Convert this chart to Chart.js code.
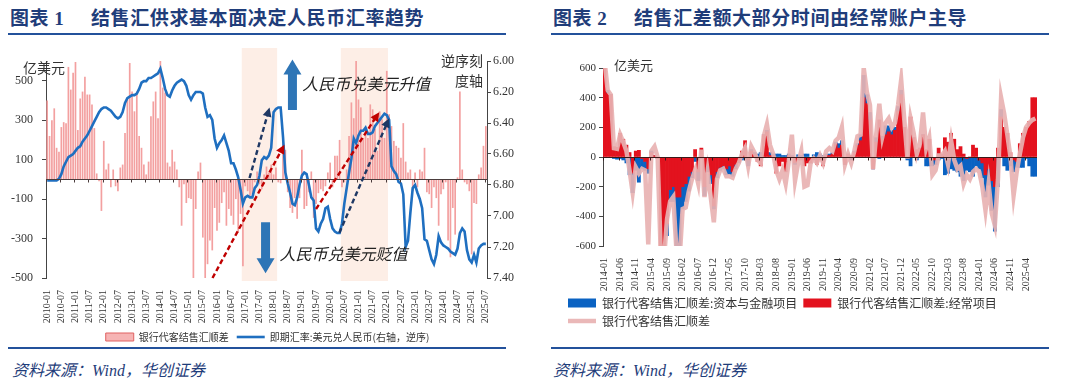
<!DOCTYPE html>
<html lang="zh-CN">
<head>
<meta charset="UTF-8">
<title>结售汇与人民币汇率</title>
<script src="https://cdn.jsdelivr.net/npm/chart.js"></script>
<style>
  body { margin: 0; width: 1080px; height: 384px; background: #fff; position: relative; overflow: hidden;
         font-family: "Noto Sans CJK SC", sans-serif; }
  .title { position: absolute; top: 6px; font-size: 19px; line-height: 22px; font-weight: bold; color: #1f3d7a;
           white-space: nowrap; letter-spacing: 0.6px; }
  .rule { position: absolute; height: 2px; background: #23519b; z-index: 2; }
  .source { position: absolute; top: 359px; font-size: 16px; line-height: 20px; font-style: italic; color: #1f3d7a;
            white-space: nowrap; }
  .source b { font-family: "Liberation Serif", serif; font-weight: normal; }
  .unit { position: absolute; font-size: 13px; line-height: 16px; color: #333; white-space: nowrap; z-index: 2; }
  .chart { position: absolute; }
</style>
</head>
<body>
  <div class="title" style="left:10px">图表 <span style="font-family:'Liberation Serif',serif">1</span></div>
  <div class="title" style="left:91px">结售汇供求基本面决定人民币汇率趋势</div>
  <div class="rule" style="left:8px;top:33px;width:498px"></div>

  <div class="title" style="left:553px">图表 <span style="font-family:'Liberation Serif',serif">2</span></div>
  <div class="title" style="left:634px">结售汇差额大部分时间由经常账户主导</div>
  <div class="rule" style="left:551px;top:33px;width:498px"></div>

  <div class="chart" style="left:0;top:40px;width:540px;height:312px">
    <canvas id="leftChart" width="540" height="312"></canvas>
  </div>
  <div class="chart" style="left:540px;top:40px;width:540px;height:300px">
    <canvas id="rightChart" width="540" height="300"></canvas>
  </div>

  <div class="unit" style="left:23px;top:59px;font-size:14px">亿美元</div>
  <div class="unit" style="left:441px;top:52px;font-size:14px">逆序刻</div>
  <div class="unit" style="left:455px;top:72px;font-size:14px">度轴</div>
  <div class="unit" style="left:614px;top:57px">亿美元</div>

  <div class="rule" style="left:8px;top:347px;width:498px"></div>
  <div class="rule" style="left:551px;top:347px;width:498px"></div>
  <div class="source" style="left:12px">资料来源：<b>Wind</b>，华创证券</div>
  <div class="source" style="left:553px">资料来源：<b>Wind</b>，华创证券</div>

<script>
  // ---- data: chart 1 (monthly, 2010-01 .. 2025-07) ----
  const leftMonths = [];
  for (let y = 2010; y <= 2025; y++) {
    for (let m = 1; m <= 12; m++) {
      if (y === 2025 && m > 7) break;
      leftMonths.push(y + '-' + String(m).padStart(2, '0'));
    }
  }

  // 银行代客结售汇顺差, 亿美元
  const leftSettlement = [
    400, 220, 300, 360, 160, 140, 265, 290, 285, 570,
    455, 540, 595, 250, 410, 445, 520, 430, 430, 380,
    260, 30, -10, -160, 195, 50, 80, -40, 50, -35,
    -60, 60, 75, 235, 410, 590, 445, 345, 445,
    220, 160, 75, 25, 90, 320, 395, 445, 310, 600,
    465, 440, 85, 65, 150, 90, 50, -40, -235, -25,
    -120, -95, -100, -520, -150, 40, 85, -295, -520, -430,
    -310, -360, -145, -260, -220, -120, -65, -235, -150, -185,
    -230, -100, -270, -175, -440, -35, -60, -90, -75, -15,
    40, -25, -50, 25, 65, 35, 75, 25, 60, -15,
    -20, 230, 150,
    -65, -145, -170, -95, -200, -95, 150, -150, -135, -65,
    40, -195, -125, -70, -50, -60, -35, 35, 85, -40,
    120, 120, 200, -40, -15, 50, 220, 390, 310, 600,
    405, 365, 210, 255, 210, 380, 355, 255, 145, 345,
    305, 210, 550, 330, 270, 195, 170, 160, 110, 285,
    90, 35, 50, -60, 35, -40, 50, 40, 160, -65,
    -75, -145, -40, -95, -235, -75, -50, -15, -310, -395,
    -145, -280, 10, 445, 50, -15, -25, -60, -380, -120,
    -125, 25, 60, 170, 270
  ];

  // 即期汇率: 美元兑人民币
  const leftRate = [
    6.77, 6.77, 6.77, 6.77, 6.77, 6.76, 6.73, 6.68, 6.65, 6.62, 6.61, 6.60,
    6.58, 6.56, 6.55, 6.52, 6.50, 6.48, 6.45, 6.42, 6.39, 6.36, 6.33, 6.31,
    6.30, 6.30, 6.31, 6.32, 6.34, 6.36, 6.37, 6.36, 6.33, 6.27, 6.24, 6.23,
    6.22, 6.22, 6.21, 6.18, 6.14, 6.13, 6.13, 6.11, 6.11, 6.10, 6.09, 6.08,
    6.05, 6.11, 6.18, 6.22, 6.23, 6.19, 6.16, 6.14, 6.13, 6.12, 6.13, 6.16,
    6.22, 6.25, 6.22, 6.20, 6.20, 6.20, 6.21, 6.30, 6.36, 6.35, 6.38, 6.50,
    6.56, 6.53, 6.51, 6.48, 6.53, 6.58, 6.66, 6.66, 6.70, 6.75, 6.83, 6.92,
    6.88, 6.87, 6.88, 6.88, 6.82, 6.80, 6.74, 6.64, 6.62, 6.63, 6.61, 6.56,
    6.33, 6.31, 6.30, 6.30, 6.49, 6.72, 6.79, 6.85, 6.92, 6.93, 6.88, 6.80,
    6.74, 6.72, 6.73, 6.80, 6.88, 6.90, 7.08, 7.10, 7.05, 7.02, 6.95, 6.94,
    7.02, 7.08, 7.10, 7.11, 7.11, 7.05, 6.92, 6.82, 6.72, 6.63, 6.50, 6.53,
    6.48, 6.45, 6.45, 6.43, 6.47, 6.47, 6.46, 6.42, 6.40, 6.38, 6.36, 6.34,
    6.35, 6.38, 6.68, 6.71, 6.73, 6.78, 6.79, 6.86, 7.20, 7.16, 6.98, 6.82,
    6.80, 6.85, 6.89, 6.95, 7.15, 7.16, 7.22, 7.28, 7.31, 7.25, 7.13, 7.17,
    7.19, 7.20, 7.21, 7.23, 7.24, 7.25, 7.21, 7.11, 7.08, 7.10, 7.22, 7.28,
    7.30, 7.25, 7.30, 7.21, 7.19, 7.18, 7.18
  ];

  const leftTicks = [-500, -300, -100, 100, 300, 500];
  const rateTicks = [6.0, 6.2, 6.4, 6.6, 6.8, 7.0, 7.2, 7.4];
  const shadePeriods = [['2016-12', '2018-02'], ['2020-06', '2022-01']];

  // ---- data: chart 2 (monthly, 2014-01 .. 2025-07) ----
  const rightMonths = leftMonths.slice(leftMonths.indexOf('2014-01'));

  // 资本与金融项目
  const rightCapital = [
    10, 20, 0, -10, -15, -10, -20, -40, -120, -130,
    -90, -170, -70, -60, -30, 10, 0, 0, 0, -30,
    -80, -80, -100, -350, -350, -150, -120, -100, -40, -30,
    -60, -10, -60, -40, -60, -20, -40, -20, -20, -40,
    -60, -30, -30, -10, -20, -10, -40, 10, 10, 20,
    30, 0, 10, 20, 10, 20, 20, 10, 10, 10,
    10, -10, 15, 10, 20, 20, 0, 15, 30, 20,
    10, 10, 10, 10, 10, 30, 30, 0, 0, -20,
    10, 10, 40, 150, 60, 50, 0, 30, -10, 20,
    60, 40, 30, 20, 30, 30, 0, -20, -60, 0,
    -20, 0, 0, -60, -60, -40, -30, -20, -10, -120,
    -110, -80, -90, -100, -130, -160, -80, -100, -130, -60,
    -60, -100, -150, -110, -200, -300, -200, 50, -60, -90,
    -60, -80, -40, -70, -70, -10, -60, -130, -130
  ];
  // 经常项目
  const rightCurrent = [
    640, 430, 420, 70, 65, 160, 120, 80, 30, -110,
    40, 45, -10, -30, -80, 30, 10, -10, -640, -640,
    -450, -220, -200, -270, -270, -200, -180, -130, -100, 50,
    -100, 60, -200, -60, -120, -330, -100, -70, -60, -80,
    -60, -100, -50, -30, 40, 110, -20, 40, 20, -30,
    -60, 150, 170, 10, 10, -110, -60, -30, -100, 10,
    0, -40, -20, -20, -60, -40, -40, -20, -50, -20,
    -60, 10, 10, 20, 90, 60, 80, -50, 20, 10,
    30, 80, 110, 400, 360, 250, -80, 100, 250, 120,
    150, 170, 150, 180, 310, 420, 200, 0, 270, 130,
    50, 60, 150, 50, 120, -20, -20, 60, 20, 130,
    100, 160, 120, 50, 70, 20, -10, 0, 80, 60,
    -20, -40, -120, -80, -160, -200, 60, 270, 200, 160,
    30, -20, -30, 90, 160, 200, 240, 400, 400
  ];
  // 银行代客结售汇顺差
  const rightTotal = [
    650, 450, 420, 60, 55, 150, 100, 40, -90, -240,
    -70, -110, -80, -90, -590, 40, 70, 0, -650, -700,
    -420, -300, -270, -620, -700, -350, -340, -230, -150, -90,
    -180, 50, -270, -100, -270, -440, -150, -90, -80, -130,
    -130, -140, -80, -40, 20, 60, -60, 70, 30, -20,
    -40, 140, 220, 80, 20, -90, -150, -90, -180, -30,
    150, -160, -40, 40, -200, -190, -40, -10, -40, 10,
    -40, 40, 60, 40, 110, 130, 200, -50, 20, -40,
    40, 140, 150, 600, 440, 350, -80, 150, 360, 140,
    230, 260, 200, 230, 350, 520, 250, -10, 260, 160,
    20, 90, 300, 60, 130, -120, -90, 10, 10, 40,
    -50, 110, -20, -80, -60, -180, -120, -150, -100, -80,
    -100, -200, -360, -180, -380, -460, -150, 400, 290, 150,
    0, -260, -100, 20, 130, 200, 230, 250, 260
  ];
  const rightTicks = [-600, -400, -200, 0, 200, 400, 600];

  // annotation geometry for chart 1, in (month index, rate) space
  const trendArrows = [
    { from: [85.8, 6.755], to: [94.3, 6.30], color: '#1f3864' },
    { from: [70.1, 7.40], to: [100.6, 6.54], color: '#c00000' },
    { from: [114.0, 6.955], to: [140.8, 6.33], color: '#c00000' },
    { from: [123.9, 7.108], to: [145.0, 6.37], color: '#1f3864' }
  ];

  const serif = '"Liberation Serif", "Times New Roman", serif';
  const cjk = '"Noto Sans CJK SC", sans-serif';

  function legendItems(chart, fills) {
    const items = Chart.defaults.plugins.legend.labels.generateLabels(chart);
    items.forEach(it => {
      const ds = chart.data.datasets[it.datasetIndex];
      it.pointStyle = ds.type === 'line' ? 'line' : 'rect';
      if (fills && fills[it.datasetIndex]) Object.assign(it, fills[it.datasetIndex]);
    });
    return items.sort((a, b) => a.datasetIndex - b.datasetIndex);
  }

  function dashedArrow(ctx, x0, y0, x1, y1, color) {
    const ang = Math.atan2(y1 - y0, x1 - x0);
    const head = 9;
    ctx.save();
    ctx.strokeStyle = color;
    ctx.fillStyle = color;
    ctx.lineWidth = 2.4;
    ctx.setLineDash([5, 3]);
    ctx.beginPath();
    ctx.moveTo(x0, y0);
    ctx.lineTo(x1 - Math.cos(ang) * head * 0.8, y1 - Math.sin(ang) * head * 0.8);
    ctx.stroke();
    ctx.setLineDash([]);
    ctx.beginPath();
    ctx.moveTo(x1, y1);
    ctx.lineTo(x1 - head * Math.cos(ang) + 4.5 * Math.sin(ang), y1 - head * Math.sin(ang) - 4.5 * Math.cos(ang));
    ctx.lineTo(x1 - head * Math.cos(ang) - 4.5 * Math.sin(ang), y1 - head * Math.sin(ang) + 4.5 * Math.cos(ang));
    ctx.closePath();
    ctx.fill();
    ctx.restore();
  }

  function blockArrow(ctx, cx, yTail, yTip, color) {
    const dir = yTip < yTail ? -1 : 1;
    const headLen = 15, shaftHalf = 4.5, headHalf = 9;
    const yBase = yTip - dir * headLen;
    ctx.save();
    ctx.fillStyle = color;
    ctx.beginPath();
    ctx.moveTo(cx - shaftHalf, yTail);
    ctx.lineTo(cx + shaftHalf, yTail);
    ctx.lineTo(cx + shaftHalf, yBase);
    ctx.lineTo(cx + headHalf, yBase);
    ctx.lineTo(cx, yTip);
    ctx.lineTo(cx - headHalf, yBase);
    ctx.lineTo(cx - shaftHalf, yBase);
    ctx.closePath();
    ctx.fill();
    ctx.restore();
  }

  function zeroAxis(chart, every, color) {
    const { ctx, chartArea, scales: { x, y } } = chart;
    const y0 = Math.round(y.getPixelForValue(0)) + 0.5;
    const w = x.getPixelForValue(1) - x.getPixelForValue(0);
    ctx.save();
    ctx.strokeStyle = color;
    ctx.lineWidth = 1;
    ctx.beginPath();
    ctx.moveTo(chartArea.left, y0);
    ctx.lineTo(chartArea.right, y0);
    for (let i = 0; i < x.getLabels().length; i += every) {
      const xp = Math.round(x.getPixelForValue(i) - w / 2) + 0.5;
      ctx.moveTo(xp, y0);
      ctx.lineTo(xp, y0 + 3);
    }
    ctx.stroke();
    ctx.restore();
  }

  const leftDecor = {
    id: 'leftDecor',
    beforeDatasetsDraw(chart) {
      const { ctx, chartArea, scales: { x } } = chart;
      const w = x.getPixelForValue(1) - x.getPixelForValue(0);
      ctx.save();
      ctx.fillStyle = '#fdeee6';
      shadePeriods.forEach(([a, b]) => {
        const x0 = x.getPixelForValue(leftMonths.indexOf(a)) - w / 2;
        const x1 = x.getPixelForValue(leftMonths.indexOf(b)) + w / 2;
        ctx.fillRect(x0, chartArea.top - 13, x1 - x0, chartArea.bottom - chartArea.top + 16);
      });
      ctx.restore();
    },
    afterDatasetsDraw(chart) {
      const { ctx, scales: { x, y1 } } = chart;
      zeroAxis(chart, 6, '#4a3c3c');
      trendArrows.forEach(a => {
        dashedArrow(ctx, x.getPixelForValue(a.from[0]), y1.getPixelForValue(a.from[1]),
                    x.getPixelForValue(a.to[0]), y1.getPixelForValue(a.to[1]), a.color);
      });
      blockArrow(ctx, x.getPixelForValue(104), y1.getPixelForValue(6.316), y1.getPixelForValue(5.99), '#2e75b6');
      blockArrow(ctx, x.getPixelForValue(92.6), y1.getPixelForValue(7.04), y1.getPixelForValue(7.37), '#2e75b6');
      ctx.save();
      ctx.font = 'italic 16px ' + cjk;
      ctx.fillStyle = '#222';
      ctx.textBaseline = 'middle';
      ctx.fillText('人民币兑美元升值', x.getPixelForValue(108.2), y1.getPixelForValue(6.15));
      ctx.fillText('人民币兑美元贬值', x.getPixelForValue(98.5), y1.getPixelForValue(7.245));
      ctx.restore();
    }
  };

  const rightDecor = {
    id: 'rightDecor',
    afterDatasetsDraw(chart) {
      zeroAxis(chart, 5, '#3a1818');
    }
  };

  new Chart(document.getElementById('leftChart'), {
    data: {
      labels: leftMonths,
      datasets: [
        {
          type: 'bar',
          label: '银行代客结售汇顺差',
          data: leftSettlement,
          yAxisID: 'y',
          backgroundColor: '#f3a0a0',
          borderWidth: 0,
          categoryPercentage: 1,
          barPercentage: 0.72,
          order: 1
        },
        {
          type: 'line',
          label: '即期汇率:美元兑人民币(右轴，逆序)',
          data: leftRate,
          yAxisID: 'y1',
          borderColor: '#1f6fc0',
          backgroundColor: '#1f6fc0',
          borderWidth: 2.6,
          pointRadius: 0,
          tension: 0,
          order: 0
        }
      ]
    },
    options: {
      responsive: false,
      animation: false,
      events: [],
      layout: { padding: { top: 21, left: 0, right: 5, bottom: 0 } },
      plugins: {
        tooltip: { enabled: false },
        legend: {
          position: 'bottom',
          labels: {
            usePointStyle: true,
            pointStyleWidth: 28,
            boxHeight: 8,
            padding: 8,
            color: '#333',
            font: { family: cjk, size: 10 },
            generateLabels: chart => legendItems(chart, {
              0: { fillStyle: '#f6b4b4', strokeStyle: '#e06262', lineWidth: 1 }
            })
          }
        }
      },
      scales: {
        x: {
          grid: { display: false },
          border: { display: false },
          ticks: {
            autoSkip: false, minRotation: 90, maxRotation: 90, padding: 4,
            color: '#333', font: { family: serif, size: 10 },
            callback: (v, i) => (i % 6 === 0 ? leftMonths[i] : null)
          },
          afterFit: s => { s.height = 46; }
        },
        y: {
          position: 'left',
          min: -500, max: 600,
          afterBuildTicks: s => { s.ticks = leftTicks.map(v => ({ value: v })); },
          grid: { drawOnChartArea: false, drawTicks: true, tickLength: 4, color: '#444' },
          border: { display: true, color: '#444' },
          ticks: { color: '#333', padding: 9, font: { family: serif, size: 12 } },
          afterFit: s => { s.width = 46; }
        },
        y1: {
          position: 'right',
          reverse: true,
          min: 6.0, max: 7.4,
          afterBuildTicks: s => { s.ticks = rateTicks.map(v => ({ value: v })); },
          grid: { drawOnChartArea: false, drawTicks: true, tickLength: 4, color: '#444' },
          border: { display: true, color: '#444' },
          ticks: { color: '#333', padding: 2, font: { family: serif, size: 12 }, callback: v => v.toFixed(2) },
          afterFit: s => { s.width = 48; }
        }
      }
    },
    plugins: [leftDecor]
  });

  new Chart(document.getElementById('rightChart'), {
    data: {
      labels: rightMonths,
      datasets: [
        {
          type: 'bar',
          label: '银行代客结售汇顺差:资本与金融项目',
          data: rightCapital,
          backgroundColor: '#0a62c2',
          stack: 'parts',
          categoryPercentage: 1,
          barPercentage: 1,
          order: 2
        },
        {
          type: 'bar',
          label: '银行代客结售汇顺差:经常项目',
          data: rightCurrent,
          backgroundColor: '#e3121e',
          stack: 'parts',
          categoryPercentage: 1,
          barPercentage: 1,
          order: 1
        },
        {
          type: 'line',
          label: '银行代客结售汇顺差',
          data: rightTotal,
          stack: 'total',
          borderColor: 'rgba(232,178,178,0.92)',
          backgroundColor: 'rgba(232,178,178,0.92)',
          borderWidth: 4.5,
          pointRadius: 0,
          tension: 0,
          order: 0
        }
      ]
    },
    options: {
      responsive: false,
      animation: false,
      events: [],
      layout: { padding: { top: 28, left: 22, right: 43, bottom: 3 } },
      plugins: {
        tooltip: { enabled: false },
        legend: {
          position: 'bottom',
          align: 'start',
          labels: {
            usePointStyle: true,
            pointStyleWidth: 28,
            boxHeight: 9,
            padding: 6,
            color: '#333',
            font: { family: cjk, size: 12 },
            generateLabels: chart => legendItems(chart)
          }
        }
      },
      scales: {
        x: {
          stacked: true,
          grid: { display: false },
          border: { display: false },
          ticks: {
            autoSkip: false, minRotation: 90, maxRotation: 90, padding: 4,
            color: '#333', font: { family: serif, size: 10 },
            callback: (v, i) => (i % 5 === 0 ? rightMonths[i] : null)
          },
          afterFit: s => { s.height = 45; }
        },
        y: {
          stacked: true,
          min: -600, max: 600,
          afterBuildTicks: s => { s.ticks = rightTicks.map(v => ({ value: v })); },
          grid: { drawOnChartArea: false, drawTicks: true, tickLength: 4, color: '#444' },
          border: { display: true, color: '#444' },
          ticks: { color: '#333', padding: 3, font: { family: serif, size: 11 } },
          afterFit: s => { s.width = 41; }
        }
      }
    },
    plugins: [rightDecor]
  });
</script>
</body>
</html>
